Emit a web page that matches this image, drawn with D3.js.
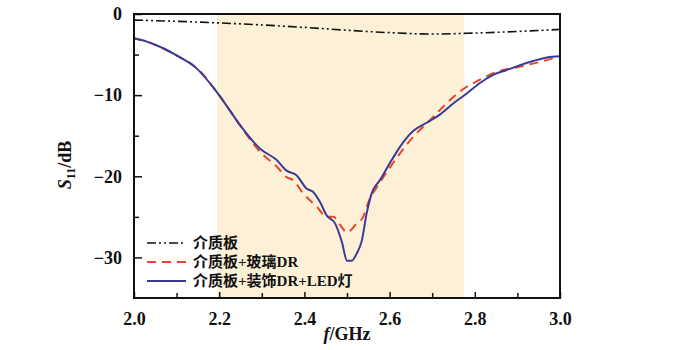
<!DOCTYPE html>
<html>
<head>
<meta charset="utf-8">
<script src="https://cdn.jsdelivr.net/npm/d3@7"></script>
<style>
  html, body { margin: 0; padding: 0; background: #fff; }
  #chart { width: 700px; height: 350px; }
</style>
</head>
<body>
<div id="chart"></div>
<script>
// S11 of the three configurations
var fBoard = [2.0, 2.1, 2.2, 2.3, 2.4, 2.5, 2.6, 2.7, 2.8, 2.9, 3.0];
var sBoard = [-0.75, -0.9, -1.1, -1.35, -1.65, -2.0, -2.3, -2.47, -2.35, -2.15, -1.9];

var fGlass = [2.0, 2.03, 2.07, 2.1, 2.15, 2.2, 2.25, 2.296, 2.335, 2.358, 2.374, 2.397,
              2.43, 2.452, 2.468, 2.484, 2.5, 2.523, 2.538, 2.55, 2.573, 2.601, 2.624,
              2.656, 2.695, 2.73, 2.769, 2.812, 2.843, 2.914, 2.961, 3.0];
var sGlass = [-3.0, -3.4, -4.3, -5.1, -6.8, -10.0, -13.8, -17.0, -18.8, -20.1, -20.5, -22.1,
              -23.8, -25.0, -25.0, -26.0, -26.9, -25.8, -25.0, -23.2, -21.1, -18.9, -17.2,
              -15.1, -13.1, -11.2, -9.4, -8.1, -7.3, -6.4, -5.8, -5.2];

var fLed = [2.0, 2.03, 2.07, 2.1, 2.147, 2.194, 2.22, 2.249, 2.296, 2.335, 2.358, 2.382,
            2.405, 2.42, 2.437, 2.452, 2.472, 2.488, 2.5, 2.511, 2.523, 2.535, 2.546,
            2.558, 2.577, 2.605, 2.624, 2.656, 2.687, 2.718, 2.75, 2.781, 2.812, 2.843,
            2.875, 2.906, 2.937, 2.969, 3.0];
var sLed = [-3.0, -3.4, -4.25, -5.1, -6.7, -9.6, -11.5, -13.7, -16.6, -18.0, -19.3, -19.9,
            -21.5, -21.9, -23.2, -24.8, -25.8, -28.1, -30.4, -30.4, -29.5, -27.9, -24.6,
            -22.1, -20.5, -18.0, -16.4, -14.4, -13.4, -12.4, -11.0, -9.8, -8.5, -7.5,
            -6.9, -6.3, -5.8, -5.35, -5.2];

var band = [2.195, 2.775];
var xTicks = [2.0, 2.2, 2.4, 2.6, 2.8, 3.0];
var xMinor = [2.1, 2.3, 2.5, 2.7, 2.9];
var yTicks = [0, -10, -20, -30];
var yMinor = [-5, -15, -25];
var seriesNames = ['介质板', '介质板+玻璃DR', '介质板+装饰DR+LED灯'];

(function () {
    var W = 700, H = 350;
    var margin = { top: 14, right: 140, bottom: 52, left: 134 };
    var innerW = W - margin.left - margin.right;
    var innerH = H - margin.top - margin.bottom;
    var font = '"Liberation Serif", "Noto Sans CJK SC", serif';

    var svg = d3.select('#chart').append('svg')
        .attr('width', W).attr('height', H);
    var g = svg.append('g')
        .attr('transform', 'translate(' + margin.left + ',' + margin.top + ')');

    var x = d3.scaleLinear().domain([2.0, 3.0]).range([0, innerW]);
    var y = d3.scaleLinear().domain([-35, 0]).range([innerH, 0]);

    // Shaded band
    g.append('rect')
        .attr('x', x(band[0])).attr('y', 0)
        .attr('width', x(band[1]) - x(band[0])).attr('height', innerH)
        .attr('fill', '#fcf0d6');

    var line = d3.line()
        .curve(d3.curveMonotoneX)
        .x(function (d) { return x(d[0]); })
        .y(function (d) { return y(d[1]); });

    function zip(a, b) { return a.map(function (v, i) { return [v, b[i]]; }); }

    var series = [
        { pts: zip(fBoard, sBoard), color: '#111', dash: '9,3,2,3,2,3', w: 1.6 },
        { pts: zip(fGlass, sGlass), color: '#e8452c', dash: '9,6', w: 2 },
        { pts: zip(fLed, sLed), color: '#3b3a96', dash: null, w: 2 }
    ];
    series.forEach(function (s) {
        g.append('path').datum(s.pts)
            .attr('d', line)
            .attr('fill', 'none')
            .attr('stroke', s.color)
            .attr('stroke-width', s.w)
            .attr('stroke-dasharray', s.dash)
            .attr('stroke-linejoin', 'round');
    });

    // Axes with inward ticks
    function styleAx(ax) {
        ax.select('.domain').remove();
        ax.selectAll('text')
            .attr('font-family', font).attr('font-size', 18)
            .attr('font-weight', 'bold').attr('fill', '#111');
        ax.selectAll('line').attr('stroke', '#111').attr('stroke-width', 1.5);
    }
    var xa = g.append('g').attr('transform', 'translate(0,' + innerH + ')')
        .call(d3.axisBottom(x).tickValues(xTicks).tickFormat(d3.format('.1f'))
            .tickSizeInner(-6).tickSizeOuter(0).tickPadding(14));
    styleAx(xa);
    var xm = g.append('g').attr('transform', 'translate(0,' + innerH + ')')
        .call(d3.axisBottom(x).tickValues(xMinor).tickFormat('').tickSizeInner(-5).tickSizeOuter(0));
    styleAx(xm);
    var ya = g.append('g')
        .call(d3.axisLeft(y).tickValues(yTicks)
            .tickFormat(function (d) { return d < 0 ? '\u2212' + (-d) : d; })
            .tickSizeInner(-8).tickSizeOuter(0).tickPadding(12));
    styleAx(ya);
    var ym = g.append('g')
        .call(d3.axisLeft(y).tickValues(yMinor).tickFormat('').tickSizeInner(-5).tickSizeOuter(0));
    styleAx(ym);

    // Frame
    g.append('rect')
        .attr('x', 0).attr('y', 0).attr('width', innerW).attr('height', innerH)
        .attr('fill', 'none').attr('stroke', '#111').attr('stroke-width', 2);

    // Legend
    var lx = 147, ly0 = 243, rowH = 19;
    series.forEach(function (s, i) {
        var ly = ly0 + i * rowH;
        svg.append('line')
            .attr('x1', lx).attr('x2', lx + 39)
            .attr('y1', ly).attr('y2', ly)
            .attr('stroke', s.color).attr('stroke-width', s.w)
            .attr('stroke-dasharray', s.dash);
        svg.append('text')
            .attr('x', lx + 46).attr('y', ly)
            .attr('dy', '0.35em')
            .attr('font-family', font).attr('font-size', 15)
            .attr('font-weight', 'bold').attr('fill', '#111')
            .text(seriesNames[i]);
    });

    // Axis titles
    var xt = svg.append('text')
        .attr('x', margin.left + innerW / 2).attr('y', 340)
        .attr('text-anchor', 'middle')
        .attr('font-family', font).attr('font-size', 18)
        .attr('font-weight', 'bold').attr('fill', '#111');
    xt.append('tspan').attr('font-style', 'italic').text('f');
    xt.append('tspan').text('/GHz');

    var yt = svg.append('text')
        .attr('transform', 'translate(71,165) rotate(-90)')
        .attr('text-anchor', 'middle')
        .attr('font-family', font).attr('font-size', 18)
        .attr('font-weight', 'bold').attr('fill', '#111');
    yt.append('tspan').attr('font-style', 'italic').text('S');
    yt.append('tspan').attr('font-size', 12).attr('dy', 4).text('11');
    yt.append('tspan').attr('dy', -4).text('/dB');
})();
</script>
</body>
</html>
